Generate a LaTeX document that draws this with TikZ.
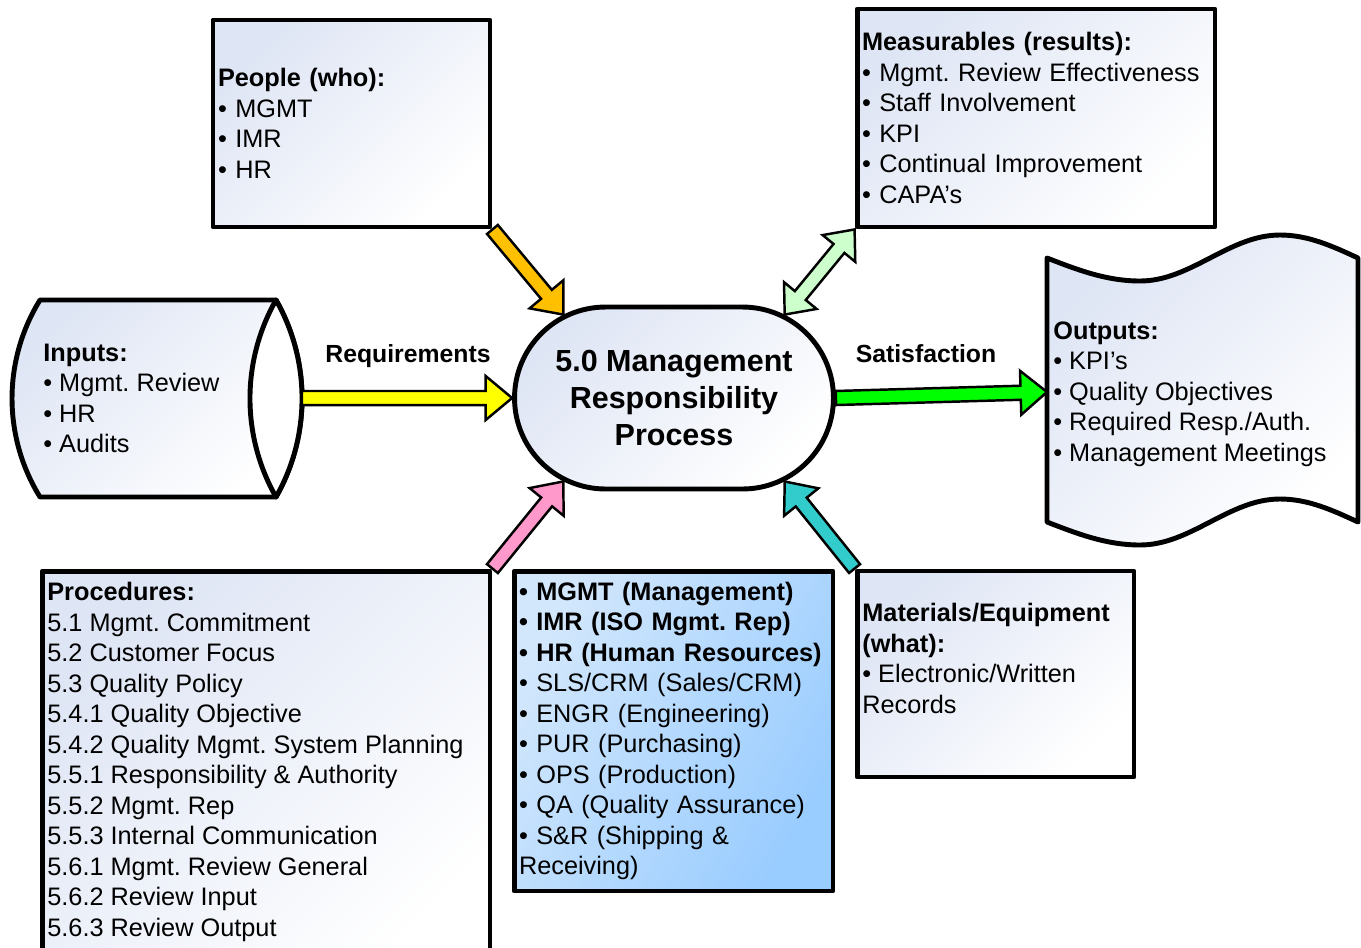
\documentclass[tikz,border=0pt]{standalone}
\usepackage{fontspec}
\setmainfont{Liberation Sans}
\usetikzlibrary{shapes.misc,calc}
\frenchspacing

\definecolor{boxshade}{RGB}{222,229,244}
\definecolor{deptlight}{RGB}{210,231,252}
\definecolor{deptblue}{RGB}{153,204,255}
\definecolor{arrgold}{RGB}{255,192,0}
\definecolor{arrmint}{RGB}{204,255,204}
\definecolor{arryellow}{RGB}{255,255,0}
\definecolor{arrgreen}{RGB}{0,255,0}
\definecolor{arrpink}{RGB}{255,153,204}
\definecolor{arrteal}{RGB}{51,204,204}

% Fat outlined arrow from #2 to #3, filled with #1
\newcommand{\fatarrow}[3]{%
  \path (#2) coordinate (fa-s) (#3) coordinate (fa-e);
  \pgfpointdiff{\pgfpointanchor{fa-s}{center}}{\pgfpointanchor{fa-e}{center}}%
  \pgfgetlastxy{\fadx}{\fady}%
  \pgfmathsetmacro{\faang}{atan2(\fady,\fadx)}%
  \pgfmathsetmacro{\falen}{veclen(\fadx,\fady)}%
  \begin{scope}[shift={(fa-s)}, rotate=\faang]
    \draw[blockarr, fill=#1] (0pt,-4pt) -- (\falen pt-15pt,-4pt) -- (\falen pt-15pt,-12.5pt)
      -- (\falen pt,0pt) -- (\falen pt-15pt,12.5pt) -- (\falen pt-15pt,4pt) -- (0pt,4pt) -- cycle;
  \end{scope}
}
% Same, with a head at both ends
\newcommand{\fatdarrow}[3]{%
  \path (#2) coordinate (fa-s) (#3) coordinate (fa-e);
  \pgfpointdiff{\pgfpointanchor{fa-s}{center}}{\pgfpointanchor{fa-e}{center}}%
  \pgfgetlastxy{\fadx}{\fady}%
  \pgfmathsetmacro{\faang}{atan2(\fady,\fadx)}%
  \pgfmathsetmacro{\falen}{veclen(\fadx,\fady)}%
  \begin{scope}[shift={(fa-s)}, rotate=\faang]
    \draw[blockarr, fill=#1] (0pt,0pt) -- (14pt,-12pt) -- (14pt,-4pt) -- (\falen pt-14pt,-4pt)
      -- (\falen pt-14pt,-12pt) -- (\falen pt,0pt) -- (\falen pt-14pt,12pt) -- (\falen pt-14pt,4pt)
      -- (14pt,4pt) -- (14pt,12pt) -- cycle;
  \end{scope}
}

\begin{document}
\begin{tikzpicture}[%
    x=0.02cm, y=-0.02cm,                       % work in pixels of the original
    font=\fontsize{14.4}{17.35}\selectfont,
    ]
% -------------------------------------------------
% Styles
\tikzset{
  shaded/.style={top color=boxshade, bottom color=white, shading angle=45},
  shapeline/.style={draw, line width=2.8pt, line join=round},
  infobox/.style={shapeline, shaded, inner xsep=0.1cm, inner ysep=0pt, align=left},
  textblock/.style={inner sep=0pt, align=left},
  blockarr/.style={draw, line width=1.4pt, line join=miter},
  lbl/.style={font=\fontsize{14.1}{16}\selectfont\bfseries, inner sep=0pt},
}
\useasboundingbox (0,0) rectangle (1361,947);
\clip (0,0) rectangle (1361,947);

% -------------------------------------------------
% Boxes round the process
\node [infobox, minimum width=5.54cm, minimum height=4.14cm, text width=5.34cm]
  (people) at (351.5,123.5)
  {\textbf{People (who):}\\ • MGMT\\ • IMR\\ • HR};
\node [infobox, minimum width=7.16cm, minimum height=4.36cm, text width=6.96cm]
  (measures) at (1036,118)
  {\textbf{Measurables (results):}\\ • Mgmt. Review Effectiveness\\ • Staff Involvement\\
   • KPI\\ • Continual Improvement\\ • CAPA’s};

\node [infobox, rounded rectangle, align=center, minimum width=6.58cm, minimum height=3.64cm,
  font=\fontsize{17.35}{20.8}\selectfont\bfseries]
  (proc) at (674,398) {5.0 Management\\ Responsibility\\ Process};

\node [infobox, minimum width=8.96cm, minimum height=8.18cm] (procs) at (266,775.5) {};
\node [textblock, anchor=north west] (procstext) at (47,582)
  {\textbf{Procedures:}\\ 5.1 Mgmt. Commitment\\ 5.2 Customer Focus\\ 5.3 Quality Policy\\
   5.4.1 Quality Objective\\ 5.4.2 Quality Mgmt. System Planning\\
   5.5.1 Responsibility \& Authority\\ 5.5.2 Mgmt. Rep\\ 5.5.3 Internal Communication\\
   5.6.1 Mgmt. Review General\\ 5.6.2 Review Input\\ 5.6.3 Review Output};

\node [infobox, top color=deptlight, bottom color=deptblue, shading angle=60,
  minimum width=6.38cm, minimum height=6.4cm, text width=6.18cm]
  (depts) at (673.5,731)
  {\textbf{• MGMT (Management)}\\ \textbf{• IMR (ISO Mgmt. Rep)}\\
   \textbf{• HR (Human Resources)}\\ • SLS/CRM (Sales/CRM)\\ • ENGR (Engineering)\\
   • PUR (Purchasing)\\ • OPS (Production)\\ • QA (Quality Assurance)\\
   • S\&R (Shipping \&\\ Receiving)};

\node [infobox, minimum width=5.54cm, minimum height=4.12cm] (materials) at (995.5,674) {};
\node [textblock, anchor=north west] (materialstext) at (862,603)
  {\textbf{Materials/Equipment}\\ \textbf{(what):}\\ • Electronic/Written\\ Records};

% -------------------------------------------------
% Inputs drum and outputs tape
\draw [shapeline, shaded]
  (276,300) -- (40,300) .. controls (2.7,360.4) and (2.7,436.6) .. (40,497) -- (276,497)
  .. controls (310.7,435.9) and (310.7,361.1) .. (276,300) -- cycle;
\draw [shapeline, fill=white]
  (276,300) .. controls (241.3,361.1) and (241.3,435.9) .. (276,497)
  .. controls (310.7,435.9) and (310.7,361.1) .. (276,300) -- cycle;
\node [textblock, anchor=west] (inputs) at (43,398.5)
  {\textbf{Inputs:}\\ • Mgmt. Review\\ • HR\\ • Audits};
\coordinate (inR) at (302,398);

\draw [shapeline, shaded]
  (1047,258) sin (1140,281) cos (1210,258) sin (1280,235) cos (1358,258) -- (1358,522)
  sin (1280,499) cos (1210,522) sin (1140,545) cos (1047,522) -- cycle;
\node [textblock, anchor=west] (outputs) at (1053,394)
  {\textbf{Outputs:}\\ • KPI’s\\ • Quality Objectives\\ • Required Resp./Auth.\\
   • Management Meetings};
\coordinate (outL) at (1047,392);

% -------------------------------------------------
% Block arrows
\fatarrow{arrgold}{people.south east}{proc.143}
\fatdarrow{arrmint}{measures.south west}{proc.37}
\fatarrow{arryellow}{inR}{proc.west}
\fatarrow{arrgreen}{proc.east}{outL}
\fatarrow{arrpink}{procs.north east}{proc.217}
\fatarrow{arrteal}{materials.north west}{proc.-37}

\node [lbl, anchor=base] (req) at (408,362) {Requirements};
\node [lbl, anchor=base] (sat) at (926,362) {Satisfaction};
% -------------------------------------------------
\end{tikzpicture}
\end{document}
